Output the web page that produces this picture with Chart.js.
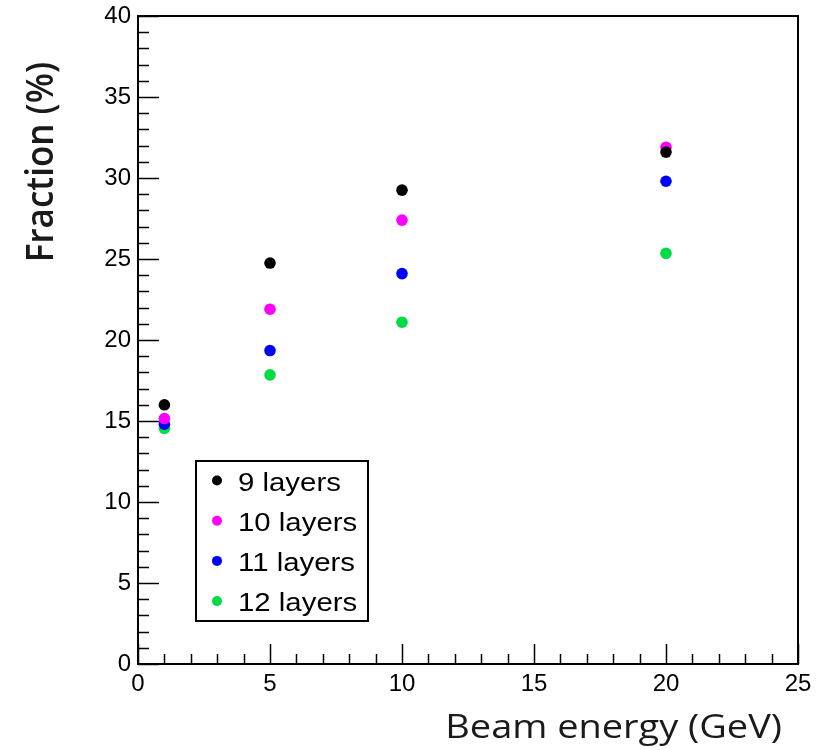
<!DOCTYPE html>
<html>
<head>
<meta charset="utf-8">
<script src="https://cdn.jsdelivr.net/npm/chart.js@4.4.1/dist/chart.umd.min.js"></script>
<style>
  html, body { margin: 0; padding: 0; background: #ffffff; }
  #wrap { width: 828px; height: 750px; }
</style>
</head>
<body>
<div id="wrap"><canvas id="chart" width="828" height="750"></canvas></div>
<script>
// Beam energies (GeV)
const energies = [1, 5, 10, 20];

// Fraction (%) per number of layers
const layers9  = [16.0, 24.75, 29.25, 31.6];
const layers10 = [15.15, 21.9, 27.4, 31.9];
const layers11 = [14.8, 19.35, 24.1, 29.8];
const layers12 = [14.55, 17.85, 21.1, 25.35];

const seriesLabels = ['9 layers', '10 layers', '11 layers', '12 layers'];
const seriesColors = ['#000000', '#ff00ff', '#0000ff', '#00dd44'];

const xTicks = [0, 5, 10, 15, 20, 25];
const yTicks = [0, 5, 10, 15, 20, 25, 30, 35, 40];

const xTitle = 'Beam energy (GeV)';
const yTitle = 'Fraction (%)';

const allSeries = [layers9, layers10, layers11, layers12];
const datasets = allSeries.map((vals, i) => ({
  label: seriesLabels[i],
  data: energies.map((e, j) => ({ x: e, y: vals[j] })),
  backgroundColor: seriesColors[i],
  borderColor: seriesColors[i],
  pointRadius: 5.8,
  pointHoverRadius: 5.8,
  borderWidth: 0,
  showLine: false
}));

const tickFont = { family: '"Liberation Sans", Arial, sans-serif', size: 24 };

// Frame, inward ticks (major + minor), axis titles and boxed legend
const rootStyle = {
  id: 'rootStyle',
  afterDatasetsDraw(chart) {
    const { ctx, chartArea: a, scales: { x, y } } = chart;
    ctx.save();
    ctx.strokeStyle = '#000000';
    ctx.lineWidth = 1.5;
    ctx.beginPath();
    for (let v = 0; v <= 25; v++) {
      const px = Math.round(x.getPixelForValue(v)) + 0.5;
      const len = v % 5 === 0 ? 20 : 10;
      ctx.moveTo(px, a.bottom);
      ctx.lineTo(px, a.bottom - len);
    }
    for (let v = 0; v <= 40; v++) {
      const py = Math.round(y.getPixelForValue(v)) + 0.5;
      const len = v % 5 === 0 ? 21 : 11;
      ctx.moveTo(a.left, py);
      ctx.lineTo(a.left + len, py);
    }
    ctx.stroke();
    ctx.lineWidth = 2;
    ctx.strokeRect(a.left, a.top, a.right - a.left, a.bottom - a.top);

    // axis titles, aligned to the high end of each axis
    ctx.fillStyle = '#1a1a1a';
    ctx.textBaseline = 'alphabetic';
    ctx.textAlign = 'right';

    ctx.save();
    ctx.translate(a.right - 16, 738);
    ctx.scale(1.15, 1);
    ctx.font = '500 33px "Open Sans", "Noto Sans", sans-serif';
    ctx.fillText(xTitle, 0, 0);
    ctx.restore();

    ctx.save();
    ctx.translate(53, a.top + 46);
    ctx.rotate(-Math.PI / 2);
    ctx.scale(1, 1.08);
    ctx.font = '600 35px "Open Sans", "Noto Sans", sans-serif';
    ctx.fillText(yTitle, 0, 0);
    ctx.restore();

    // legend box
    const lx = 196, ly = 461, lw = 172, lh = 160;
    ctx.fillStyle = '#ffffff';
    ctx.fillRect(lx, ly, lw, lh);
    ctx.strokeStyle = '#000000';
    ctx.lineWidth = 2;
    ctx.strokeRect(lx, ly, lw, lh);
    ctx.textAlign = 'left';
    ctx.textBaseline = 'alphabetic';
    chart.data.datasets.forEach((ds, i) => {
      const cy = ly + 19.5 + i * 40.2;
      ctx.fillStyle = ds.backgroundColor;
      ctx.beginPath();
      ctx.arc(lx + 21, cy, 5, 0, Math.PI * 2);
      ctx.fill();
      ctx.save();
      ctx.translate(lx + 42, cy + 10);
      ctx.scale(1.13, 1);
      ctx.fillStyle = '#000000';
      ctx.font = '26px "Liberation Sans", Arial, sans-serif';
      ctx.fillText(ds.label, 0, 0);
      ctx.restore();
    });
    ctx.restore();
  }
};

new Chart(document.getElementById('chart'), {
  type: 'scatter',
  data: { datasets },
  options: {
    responsive: false,
    devicePixelRatio: 1,
    animation: false,
    layout: { padding: { top: 16, right: 30, left: 0, bottom: 0 } },
    plugins: { legend: { display: false }, tooltip: { enabled: false } },
    scales: {
      x: {
        type: 'linear',
        min: 0, max: 25,
        afterFit(s) { s.height = 86; s.paddingLeft = 0; s.paddingRight = 0; },
        afterBuildTicks(s) { s.ticks = xTicks.map(v => ({ value: v })); },
        grid: { display: false, drawTicks: false },
        border: { display: false },
        ticks: { font: tickFont, color: '#000000', padding: 6, maxRotation: 0 }
      },
      y: {
        type: 'linear',
        min: 0, max: 40,
        afterFit(s) { s.width = 138; s.paddingTop = 0; s.paddingBottom = 0; },
        afterBuildTicks(s) { s.ticks = yTicks.map(v => ({ value: v })); },
        grid: { display: false, drawTicks: false },
        border: { display: false },
        ticks: { font: tickFont, color: '#000000', padding: 7 }
      }
    }
  },
  plugins: [rootStyle]
});
</script>
</body>
</html>
